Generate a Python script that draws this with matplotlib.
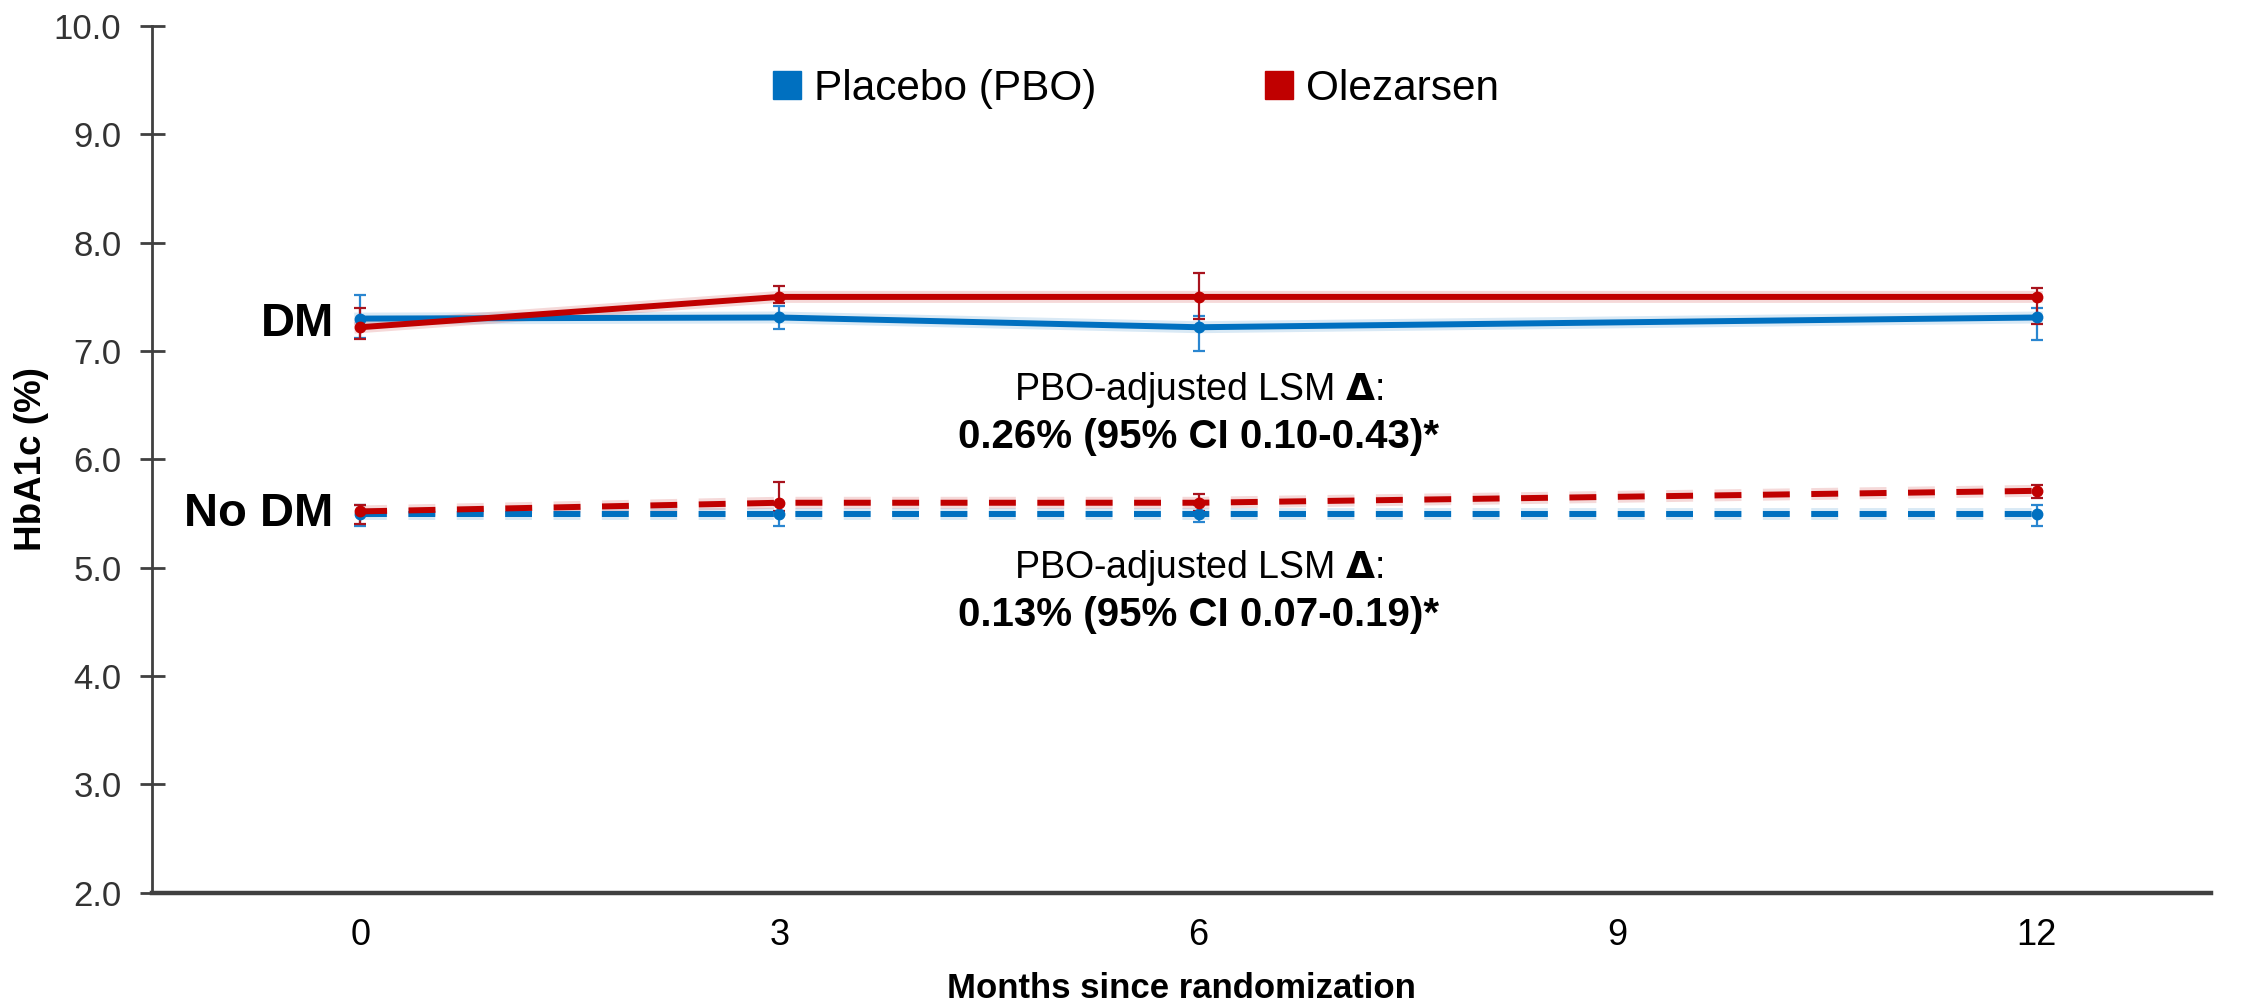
import matplotlib.pyplot as plt
from matplotlib.lines import Line2D

# data
months = [0, 3, 6, 12]

dm_pbo = [7.30, 7.31, 7.22, 7.31]
dm_pbo_lo = [7.12, 7.20, 7.00, 7.10]
dm_pbo_hi = [7.52, 7.42, 7.32, 7.40]

dm_ole = [7.22, 7.50, 7.50, 7.50]
dm_ole_lo = [7.11, 7.44, 7.30, 7.25]
dm_ole_hi = [7.40, 7.60, 7.72, 7.58]

nodm_pbo = [5.50, 5.50, 5.50, 5.50]
nodm_pbo_lo = [5.39, 5.39, 5.42, 5.39]
nodm_pbo_hi = [5.58, 5.58, 5.58, 5.58]

nodm_ole = [5.52, 5.60, 5.60, 5.71]
nodm_ole_lo = [5.40, 5.52, 5.52, 5.64]
nodm_ole_hi = [5.58, 5.79, 5.68, 5.76]

xticks = [0, 3, 6, 9, 12]
yticks = [2.0, 3.0, 4.0, 5.0, 6.0, 7.0, 8.0, 9.0, 10.0]

BLUE = '#0070C0'
RED = '#C00000'
BLUE_ERR = '#2a86d0'
RED_ERR = '#a8141e'
AX = '#404040'

plt.rcParams['font.family'] = ['Liberation Sans', 'DejaVu Sans']

LW = 4.3
DASH = (4.5, 3.6)


def series(ax, y, lo, hi, color, ecolor, dashed):
    yerr = [[v - l for v, l in zip(y, lo)], [h - v for v, h in zip(y, hi)]]
    ax.errorbar(months, y, yerr=yerr, fmt='none', ecolor=ecolor,
                elinewidth=1.6, capsize=4.5, capthick=1.6, zorder=2)
    # soft halo under the line, as in the reference
    halo, = ax.plot(months, y, color=color, lw=LW * 2, alpha=0.15, zorder=2)
    line, = ax.plot(months, y, color=color, lw=LW, zorder=3,
                    marker='o', ms=7.5, mec=color, mfc=color)
    if dashed:
        line.set_dashes(DASH)
        halo.set_dashes((DASH[0] / 2, DASH[1] / 2))
    return line


fig = plt.figure(figsize=(22.52, 10.02), dpi=100)
ax = fig.add_axes([0.0675, 0.109, 0.9145, 0.865])

series(ax, dm_pbo, dm_pbo_lo, dm_pbo_hi, BLUE, BLUE_ERR, False)
series(ax, dm_ole, dm_ole_lo, dm_ole_hi, RED, RED_ERR, False)
series(ax, nodm_pbo, nodm_pbo_lo, nodm_pbo_hi, BLUE, BLUE_ERR, True)
series(ax, nodm_ole, nodm_ole_lo, nodm_ole_hi, RED, RED_ERR, True)

ax.set_xlim(-1.49, 13.25)
ax.set_ylim(2.0, 10.0)
ax.set_xticks(xticks)
ax.set_xticklabels([str(v) for v in xticks], fontsize=26)
ax.set_yticks(yticks)
ax.set_yticklabels([f'{v:.1f}' for v in yticks], fontsize=25, color='#333333')

for s in ['top', 'right']:
    ax.spines[s].set_visible(False)
ax.spines['left'].set_color(AX)
ax.spines['left'].set_linewidth(2)
ax.spines['bottom'].set_color(AX)
ax.spines['bottom'].set_linewidth(3.2)

ax.tick_params(axis='y', direction='inout', length=18, width=2, color=AX, pad=13)
ax.tick_params(axis='x', length=0, pad=18)

ax.set_xlabel('Months since randomization', fontsize=25, fontweight='bold',
              labelpad=14)
ax.set_ylabel('HbA1c (%)', fontsize=26.5, fontweight='bold')
ax.yaxis.set_label_coords(-0.050, 0.5)

# group labels at left
ax.text(-0.19, 7.25, 'DM', fontsize=34, fontweight='bold', ha='right', va='center')
ax.text(-0.19, 5.5, 'No DM', fontsize=34, fontweight='bold', ha='right', va='center')

# treatment difference annotations
ax.text(6.0, 6.64, 'PBO-adjusted LSM $\\mathbf{\\Delta}$:', fontsize=27,
        ha='center', va='center')
ax.text(6.0, 6.21, '0.26% (95% CI 0.10-0.43)*', fontsize=29, fontweight='bold',
        ha='center', va='center')
ax.text(6.0, 5.00, 'PBO-adjusted LSM $\\mathbf{\\Delta}$:', fontsize=27,
        ha='center', va='center')
ax.text(6.0, 4.56, '0.13% (95% CI 0.07-0.19)*', fontsize=29, fontweight='bold',
        ha='center', va='center')

handles = [Line2D([], [], ls='none', marker='s', ms=19.5, color=BLUE),
           Line2D([], [], ls='none', marker='s', ms=19.5, color=RED)]
ax.legend(handles, ['Placebo (PBO)', 'Olezarsen'], loc='center',
          bbox_to_anchor=(0.476, 0.927), ncol=2, frameon=False, fontsize=30.5,
          columnspacing=3.8, handletextpad=0.15, handlelength=1.0)

fig.savefig('out.png', dpi=100)
